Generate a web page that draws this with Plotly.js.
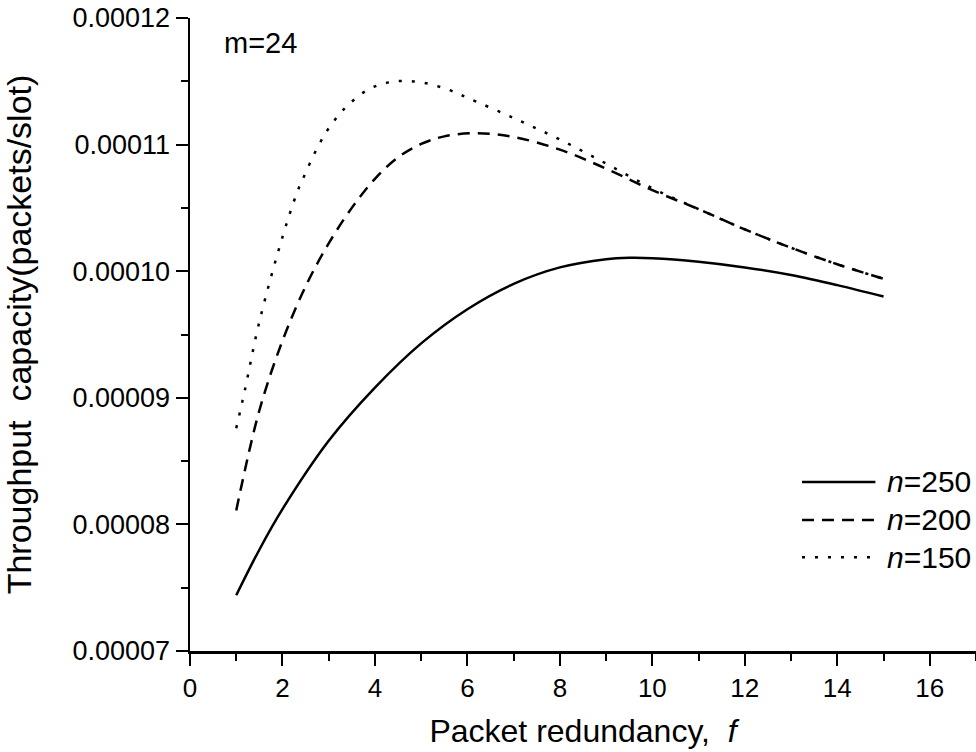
<!DOCTYPE html>
<html>
<head>
<meta charset="utf-8">
<script src="https://cdn.plot.ly/plotly-3.0.1.min.js"></script>
<style>html,body{margin:0;padding:0;background:#fff;}#chart{width:976px;height:752px;}</style>
</head>
<body>
<div id="chart"></div>
<script>
// Packet redundancy f and throughput capacity (packets/slot), m=24
const f250 = [1, 1.5, 2, 3, 4, 5, 6, 7, 8, 9, 9.5, 10, 11, 12, 13, 14, 15];
const v250 = [7.44e-5, 7.80e-5, 8.12e-5, 8.66e-5, 9.08e-5, 9.43e-5, 9.70e-5, 9.90e-5, 10.03e-5, 10.095e-5, 10.106e-5, 10.103e-5, 10.075e-5, 10.03e-5, 9.97e-5, 9.89e-5, 9.80e-5];

const f200 = [1, 1.5, 2, 2.5, 3, 3.5, 4, 4.5, 5, 5.5, 6.2, 7, 8, 9, 10, 11, 12, 13, 14, 15];
const v200 = [8.11e-5, 8.90e-5, 9.45e-5, 9.88e-5, 10.22e-5, 10.50e-5, 10.73e-5, 10.90e-5, 11.005e-5, 11.065e-5, 11.09e-5, 11.06e-5, 10.96e-5, 10.81e-5, 10.64e-5, 10.49e-5, 10.33e-5, 10.185e-5, 10.055e-5, 9.94e-5];

const f150 = [1, 1.18, 1.5, 2, 2.32, 2.43, 2.79, 3.08, 3.44, 3.92, 4.46, 5.02, 5.54, 6, 7, 8, 9, 10, 11, 12, 13, 14, 15];
const v150 = [8.76e-5, 9.05e-5, 9.60e-5, 10.27e-5, 10.626e-5, 10.72e-5, 11.00e-5, 11.17e-5, 11.32e-5, 11.447e-5, 11.50e-5, 11.49e-5, 11.44e-5, 11.37e-5, 11.21e-5, 11.04e-5, 10.85e-5, 10.655e-5, 10.49e-5, 10.33e-5, 10.185e-5, 10.055e-5, 9.94e-5];

const seriesNames = ['n=250', 'n=200', 'n=150'];
const legendLabels = ['<i>n</i>=250', '<i>n</i>=200', '<i>n</i>=150'];
const dashes = ['solid', '12px,8px', '3px,10px'];

const FONT = 'Liberation Sans, Arial, Helvetica, sans-serif';

const xs = [f250, f200, f150];
const ys = [v250, v200, v150];

const traces = xs.map((x, i) => ({
  x: x, y: ys[i], name: seriesNames[i], type: 'scatter', mode: 'lines',
  line: {color: '#000', width: 2.5, dash: dashes[i], shape: 'spline', smoothing: 1},
  showlegend: false, hoverinfo: 'skip'
}));

// manual legend (long line samples like the reference)
const legY = [0.267, 0.207, 0.148];
const shapes = legY.map((yy, i) => ({
  type: 'line', xref: 'paper', yref: 'paper', x0: 0.7786, x1: 0.872, y0: yy, y1: yy,
  line: {color: '#000', width: 2.5, dash: dashes[i]}
}));
const annotations = legY.map((yy, i) => ({
  xref: 'paper', yref: 'paper', x: 0.884, y: yy, xanchor: 'left', yanchor: 'middle',
  text: legendLabels[i], showarrow: false, font: {family: FONT, size: 30, color: '#000'}
}));
annotations.push({
  xref: 'paper', yref: 'paper', x: 0.041, y: 0.96, xanchor: 'left', yanchor: 'middle',
  text: 'm=24', showarrow: false, font: {family: FONT, size: 29, color: '#000'}
});

const layout = {
  width: 976, height: 752,
  margin: {l: 190, r: 0, t: 18, b: 101},
  paper_bgcolor: '#fff', plot_bgcolor: '#fff',
  font: {family: FONT, color: '#000'},
  showlegend: false,
  xaxis: {
    range: [0, 17], dtick: 2, tick0: 0,
    showgrid: false, zeroline: false,
    showline: true, linecolor: '#000', linewidth: 2.5,
    ticks: 'outside', ticklen: 12, tickwidth: 2, tickcolor: '#000',
    minor: {dtick: 1, ticks: 'outside', ticklen: 7, tickwidth: 2, tickcolor: '#000'},
    tickfont: {family: FONT, size: 26, color: '#000'},
    title: {text: 'Packet redundancy,&nbsp; <i>f</i>', font: {family: FONT, size: 32, color: '#000'}, standoff: 18}
  },
  yaxis: {
    range: [7e-5, 12e-5], dtick: 1e-5, tick0: 7e-5, tickformat: '.5f',
    showgrid: false, zeroline: false,
    showline: true, linecolor: '#000', linewidth: 2.5,
    ticks: 'outside', ticklen: 12, tickwidth: 2, tickcolor: '#000',
    minor: {dtick: 0.5e-5, ticks: 'outside', ticklen: 7, tickwidth: 2, tickcolor: '#000'},
    tickfont: {family: FONT, size: 27, color: '#000'},
    title: {text: 'Throughput&nbsp; capacity(packets/slot)', font: {family: FONT, size: 34, color: '#000'}, standoff: 34}
  },
  shapes: shapes,
  annotations: annotations
};

Plotly.newPlot('chart', traces, layout, {staticPlot: true, displayModeBar: false});
</script>
</body>
</html>
